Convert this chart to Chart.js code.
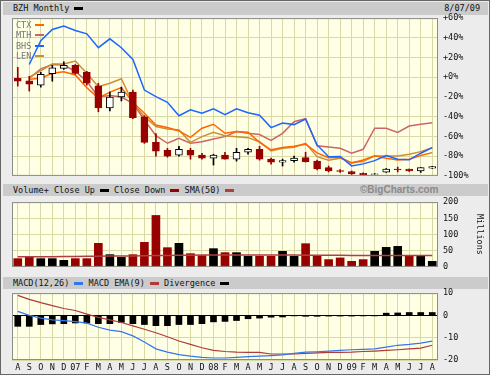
<!DOCTYPE html>
<html>
<head>
<meta charset="utf-8">
<script src="https://cdn.jsdelivr.net/npm/chart.js@4.4.1/dist/chart.umd.min.js"></script>
<style>
  body { margin: 0; background: #fff; }
  #wrap { position: relative; width: 488px; height: 373px; background: #ececec; border: 1px solid #666;
          overflow: hidden; font-family: 'DejaVu Sans Mono', monospace; font-size: 8.5px; color: #111; }
  .hbar { position: absolute; left: 2px; width: 485px; height: 12px; line-height: 12px; background: #cbcbcb; white-space: nowrap; }
  .hbar .t { position: absolute; left: 10px; top: 0; }
  .dash { display: inline-block; width: 9px; height: 3px; vertical-align: middle; margin-top: -1px; }
  canvas { position: absolute; }
  .leg { position: absolute; left: 15px; color: #777; line-height: 10px; white-space: nowrap; }
  .leg .dash { width: 9px; height: 2px; margin-left: 4px; }
</style>
</head>
<body>
<div id="wrap">
  <div class="hbar" style="top:1px;height:13px;line-height:13px;"><span class="t">BZH Monthly <span class="dash" style="background:#000"></span></span><span style="position:absolute;right:8px;top:0;">8/07/09</span></div>
  <div class="hbar" style="top:183px;"><span class="t">Volume+ Close Up <span class="dash" style="background:#000"></span> Close Down <span class="dash" style="background:#990000"></span> SMA(50) <span class="dash" style="background:#b04040"></span></span><span style="position:absolute;left:357px;top:0;font:bold 10px 'Liberation Sans',Arial,sans-serif;color:#8a8a8a;">©BigCharts.com</span></div>
  <div class="hbar" style="top:276px;"><span class="t">MACD(12,26) <span class="dash" style="background:#3377ee"></span> MACD EMA(9) <span class="dash" style="background:#b03a3a"></span> Divergence <span class="dash" style="background:#000"></span></span></div>

  <canvas id="main" width="476" height="178" style="left:11px;top:7px;"></canvas>
  <canvas id="vol" width="476" height="85" style="left:11px;top:191px;"></canvas>
  <canvas id="macd" width="476" height="90" style="left:11px;top:282px;"></canvas>

  <div class="leg" style="top:19px;">CTX<span class="dash" style="background:#ff6600"></span></div>
  <div class="leg" style="top:29px;">MTH<span class="dash" style="background:#cc6666"></span></div>
  <div class="leg" style="top:40px;">BHS<span class="dash" style="background:#1a66ff"></span></div>
  <div class="leg" style="top:50px;">LEN<span class="dash" style="background:#cc8f33"></span></div>

  <div style="position:absolute;left:459px;top:228px;width:40px;text-align:center;transform:rotate(90deg);">Millions</div>
</div>

<script>
const months = ['A','S','O','N','D','07','F','M','A','M','J','J','A','S','O','N','D','08','F','M','A','M','J','J','A','S','O','N','D','09','F','M','A','M','J','J','A'];

// BZH candles, % change
const bzhOpen  = [-1, -3.5, -8, 3.6, 9, 12, 5, -8.6, -31, -20, -15, -40, -66, -74, -79, -74, -79, -82, -79, -83, -76, -73, -83, -86, -84.5, -81.5, -85, -91.6, -94.5, -95.7, -97.3, -98.5, -96.3, -93, -93, -95, -92.2];
const bzhClose = [-4, -7, 3, 9.7, 12, 4, -6, -31, -20, -15, -41, -66, -75, -80, -73, -79, -82, -79, -83, -76, -73, -83, -86, -84.5, -82, -85.5, -93, -95, -95.5, -98, -98.7, -97.8, -93, -93.8, -95, -91.6, -90.6];
const bzhHigh  = [10, 1, 5, 12, 15.7, 13, 6, -6, -15, -10, -13, -39, -57, -72, -70, -72, -77, -78, -76, -72, -72, -70, -82, -83, -80, -76, -84, -90, -93.5, -95, -97, -97.5, -92.5, -91, -93, -91.5, -90.4];
const bzhLow   = [-9, -14, -10, -4, 8, 3, -8, -35, -34, -24, -42, -67, -80, -81, -80, -83, -83, -89, -83, -85, -78, -84, -88, -90, -86, -86, -94, -96, -96.5, -98.5, -99, -99, -96.5, -96, -95.5, -96.5, -92.4];

const ctx = [null, -2, -1, 4, 5.5, 2.4, -10.6, -21, -15, -10.5, -25.4, -36.5, -48.4, -51, -54.4, -61, -51.7, -47.6, -56.8, -55, -55.7, -66, -73.5, -71.3, -70, -67.8, -76.7, -81.5, -81, -87, -83.8, -79.7, -82, -83.8, -83, -79.4, -76.4];
const mth = [null, -1, 8.5, 13, 12.4, 6, -4, -20, -18.5, -20, -26.4, -43.3, -59.2, -66.9, -61.8, -66.9, -65.3, -62.5, -60.2, -55, -56.8, -58, -64, -56.8, -45, -42, -69.5, -70.8, -72, -77, -73, -51.7, -51.7, -56, -49.4, -47.6, -46];
const bhs = [null, 13, 37, 48.5, 52, 47.5, 44, 30, 39, 30, 18, -13, -19.7, -25.4, -39, -33, -36.5, -32, -38, -32, -35.9, -38.5, -51, -46.3, -48, -42.3, -68.6, -80.5, -80.3, -89.9, -87.8, -84.5, -79.4, -83, -83.7, -77, -71.3];
const len = [null, 0, 6.4, 13.5, 13.5, 16.5, 4, -9.6, -6.1, -1.5, -26.4, -40, -50, -52.4, -53.4, -66, -60.2, -55.7, -59.2, -60.2, -61.2, -65.3, -74.7, -72, -71, -67, -80.5, -84, -82, -86.5, -85.5, -79.7, -79.7, -79.7, -78, -75.4, -71.3];

// volume, millions
const volume = [25.5, 30.8, 25.5, 25.5, 20.3, 25.5, 25.5, 72.7, 37.8, 29.6, 37.8, 75.8, 158.8, 59.4, 72.7, 40.9, 34.8, 56.3, 44, 44, 32.6, 32.6, 32.6, 48, 32.6, 71.7, 32.6, 22.5, 27.7, 17.2, 22.5, 48, 60.3, 63.4, 32.6, 32.6, 17.2];
const volUp = [0,0,1,1,1,0,0,0,1,1,0,0,0,0,1,0,0,1,0,1,1,0,0,1,1,0,0,0,0,0,0,1,1,1,0,1,1];
const sma50 = [31, 31, 31.5, 31.5, 32, 32, 32.5, 33, 33.5, 33.5, 34, 34.5, 35, 35.5, 36, 36, 36.5, 36.5, 36.5, 36.5, 36.5, 36.5, 36.5, 36.5, 36.5, 36, 36, 36, 36, 35.5, 35.5, 35.5, 35.5, 35.5, 35.5, 35.5, 35.5];

// MACD
const macd = [1.8, 0, -1.2, -2, -2.3, -2.8, -3.5, -5.3, -6.6, -7.3, -9.2, -11.9, -15, -16.5, -17.6, -18.3, -18.8, -19.1, -19.1, -18.8, -18.5, -18.3, -18, -17.7, -17, -16.5, -16.3, -16, -15.7, -15.4, -15.2, -15, -14.2, -13.4, -13, -12.4, -11.5];
const macdEma = [9, 7.2, 5.7, 4.4, 3.1, 2.2, 0.6, -0.9, -2, -3.2, -4.7, -6.2, -7.8, -9.6, -11.5, -13, -14.5, -15.7, -16.2, -16.5, -16.6, -16.6, -17.3, -17.3, -17.3, -17, -16.8, -16.6, -16.6, -16.5, -16.2, -16, -15.7, -15.4, -15, -14.7, -13.4];
const divergence = [-4.9, -4.9, -4.1, -3.8, -3.7, -3.4, -3.4, -3.7, -3.7, -3.1, -3.7, -4.1, -4.6, -4.6, -4.1, -4.1, -3.7, -2.9, -2.7, -2.3, -1.5, -1.2, -0.8, -0.7, -0.2, -0.4, -0.4, -0.3, -0.3, -0.3, -0.2, -0.2, 1, 1.1, 1.3, 1.3, 1.3];

const gridColor = '#d9d9a6';
const plotBg = '#ffffe6';
const font = { family: "'DejaVu Sans Mono', monospace", size: 8.5 };

// pale yellow plot area + grey frame round it
const plotFrame = {
  id: 'plotFrame',
  beforeDraw(chart) {
    const a = chart.chartArea, c = chart.ctx;
    c.save();
    c.fillStyle = plotBg;
    c.fillRect(a.left, a.top, a.right - a.left, a.bottom - a.top);
    c.restore();
  },
  afterDraw(chart) {
    const a = chart.chartArea, c = chart.ctx;
    c.save();
    c.strokeStyle = '#8c8c8c';
    c.lineWidth = 1;
    c.strokeRect(a.left + 0.5, a.top + 0.5, a.right - a.left - 1, a.bottom - a.top - 1);
    c.restore();
  }
};

function xAxis(showLabels) {
  return {
    offset: true,
    grid: { color: gridColor, offset: false, drawTicks: false },
    border: { display: false },
    ticks: { display: showLabels, autoSkip: false, maxRotation: 0, padding: 3, color: '#111', font: font },
    afterFit(s) { s.height = showLabels ? 13 : 0; }
  };
}

function yAxis(min, max, step, cb, zeroBlack) {
  return {
    position: 'right', min: min, max: max,
    ticks: { stepSize: step, padding: 5, color: '#111', font: font, callback: cb },
    grid: {
      drawTicks: false,
      color: c => (zeroBlack && c.tick && c.tick.value === 0) ? '#000' : gridColor
    },
    border: { display: false },
    afterFit(s) { s.width = 50; }
  };
}

function baseOptions(x, y) {
  return {
    responsive: false, animation: false, devicePixelRatio: 1,
    layout: { padding: { top: 10, bottom: 0, left: 0, right: 0 } },
    plugins: { legend: { display: false }, tooltip: { enabled: false } },
    scales: { x: x, y: y }
  };
}

function line(data, color, order, width) {
  return { type: 'line', data: data, borderColor: color, borderWidth: width || 1.5,
           pointRadius: 0, tension: 0, order: order, spanGaps: false };
}

const up = bzhOpen.map((o, i) => bzhClose[i] >= o);

new Chart(document.getElementById('main'), {
  type: 'bar',
  data: {
    labels: months,
    datasets: [
      line(mth, '#cc6666', 8),
      line(len, '#cc8f33', 7),
      line(ctx, '#ff6600', 6),
      line(bhs, '#1a66ff', 5),
      { data: bzhLow.map((l, i) => [l, bzhHigh[i]]), backgroundColor: up.map(u => u ? '#000' : '#990000'),
        barThickness: 1, grouped: false, order: 3 },
      { data: bzhOpen.map((o, i) => [o, bzhClose[i]]), backgroundColor: up.map(u => u ? '#fff' : '#990000'),
        borderColor: up.map(u => u ? '#000' : '#990000'), borderWidth: 1, borderSkipped: false,
        barThickness: 7, grouped: false, order: 2 }
    ]
  },
  options: baseOptions(xAxis(false), yAxis(-100, 60, 20, v => (v >= 0 ? '+' : '') + v + '%')),
  plugins: [plotFrame]
});

new Chart(document.getElementById('vol'), {
  type: 'bar',
  data: {
    labels: months,
    datasets: [
      line(sma50, '#b04040', 1),
      { data: volume, backgroundColor: volUp.map(u => u ? '#000' : '#990000'), barThickness: 8, order: 2 }
    ]
  },
  options: baseOptions(xAxis(false), yAxis(0, 200, 50, v => v)),
  plugins: [plotFrame]
});

new Chart(document.getElementById('macd'), {
  type: 'bar',
  data: {
    labels: months,
    datasets: [
      line(macd, '#3377ee', 1, 1.2),
      line(macdEma, '#b03a3a', 1, 1.2),
      { data: divergence, backgroundColor: '#000', barThickness: 6, order: 2 }
    ]
  },
  options: baseOptions(xAxis(true), yAxis(-20, 10, 10, v => v, true)),
  plugins: [plotFrame]
});
</script>
</body>
</html>
